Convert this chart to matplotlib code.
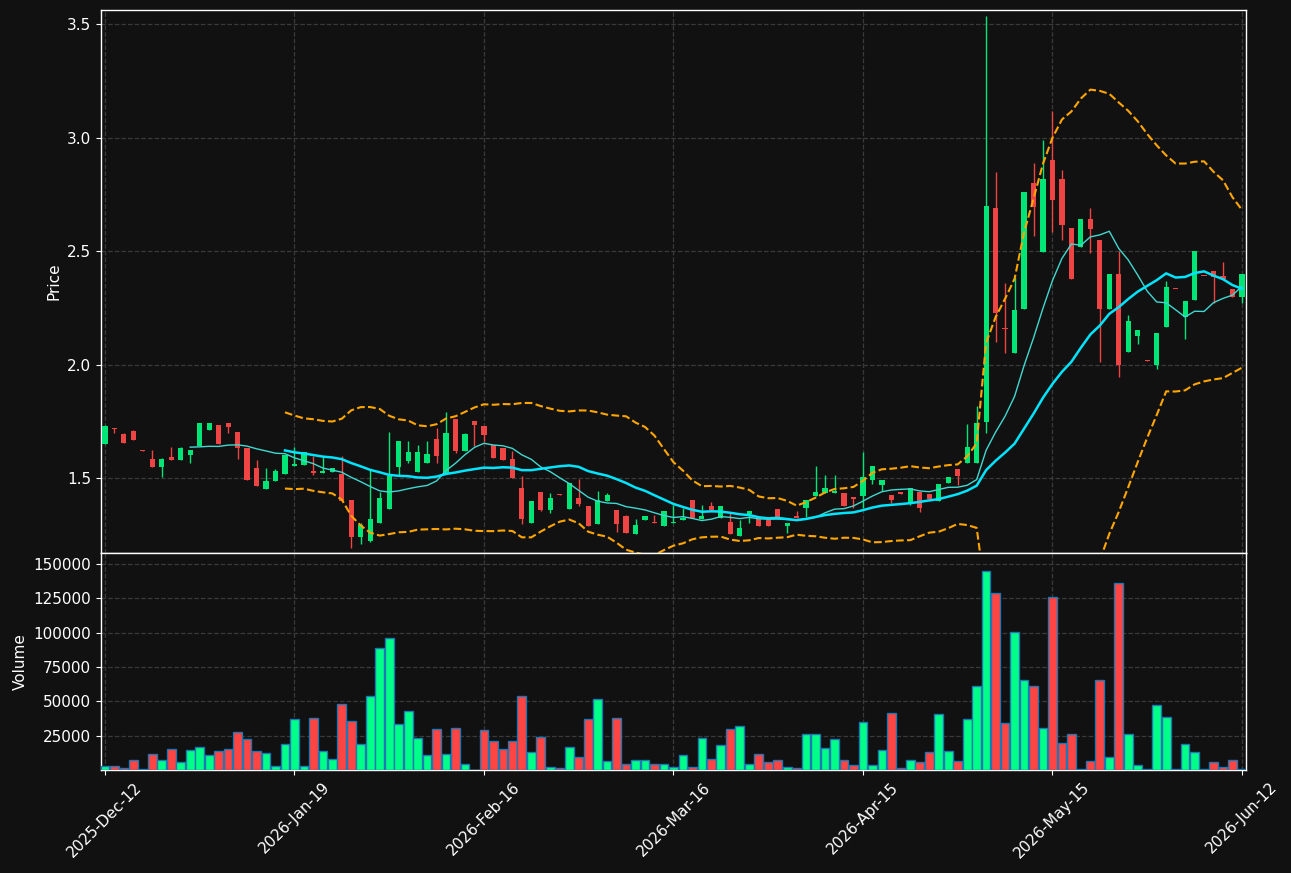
import numpy as np
import pandas as pd
import matplotlib
matplotlib.use("Agg")
import matplotlib.pyplot as plt

tick_labels = ["2025-Dec-12", "2026-Jan-19", "2026-Feb-16", "2026-Mar-16",
               "2026-Apr-15", "2026-May-15", "2026-Jun-12"]

opens = [1.651, 1.720, 1.694, 1.707, 1.623, 1.584, 1.550, 1.592, 1.581, 1.603,
         1.642, 1.713, 1.733, 1.742, 1.703, 1.634, 1.544, 1.453, 1.488, 1.519,
         1.554, 1.557, 1.529, 1.521, 1.528, 1.518, 1.403, 1.241, 1.224, 1.303,
         1.365, 1.550, 1.575, 1.528, 1.567, 1.670, 1.523, 1.760, 1.619, 1.751,
         1.729, 1.645, 1.632, 1.584, 1.456, 1.303, 1.438, 1.360, 1.429, 1.365,
         1.412, 1.377, 1.299, 1.400, 1.359, 1.333, 1.255, 1.316, 1.303, 1.290,
         1.300, 1.316, 1.403, 1.318, 1.377, 1.325, 1.306, 1.246, 1.340, 1.319,
         1.319, 1.363, 1.290, 1.333, 1.369, 1.422, 1.432, 1.432, 1.434, 1.416,
         1.421, 1.491, 1.469, 1.425, 1.437, 1.391, 1.440, 1.430, 1.400, 1.479,
         1.540, 1.567, 1.567, 1.748, 2.689, 2.160, 2.049, 2.246, 2.800, 2.497,
         2.901, 2.817, 2.601, 2.519, 2.641, 2.548, 2.246, 2.399, 2.056, 2.127,
         2.019, 1.999, 2.167, 2.334, 2.208, 2.285, 2.391, 2.411, 2.390, 2.333,
         2.299]
closes = [1.730, 1.717, 1.656, 1.669, 1.621, 1.550, 1.584, 1.581, 1.631, 1.623,
          1.742, 1.742, 1.651, 1.726, 1.634, 1.493, 1.466, 1.487, 1.531, 1.601,
          1.562, 1.613, 1.521, 1.532, 1.544, 1.400, 1.241, 1.293, 1.319, 1.412,
          1.509, 1.664, 1.615, 1.615, 1.606, 1.598, 1.697, 1.619, 1.695, 1.733,
          1.689, 1.589, 1.581, 1.501, 1.321, 1.399, 1.360, 1.412, 1.427, 1.479,
          1.387, 1.290, 1.403, 1.425, 1.299, 1.259, 1.293, 1.333, 1.301, 1.355,
          1.306, 1.324, 1.325, 1.333, 1.358, 1.377, 1.255, 1.280, 1.355, 1.290,
          1.290, 1.330, 1.302, 1.325, 1.403, 1.438, 1.456, 1.441, 1.377, 1.409,
          1.504, 1.553, 1.491, 1.403, 1.431, 1.455, 1.369, 1.407, 1.474, 1.504,
          1.510, 1.637, 1.741, 2.698, 2.228, 2.158, 2.240, 2.760, 2.695, 2.817,
          2.725, 2.615, 2.378, 2.641, 2.597, 2.246, 2.399, 1.998, 2.192, 2.152,
          2.017, 2.139, 2.341, 2.332, 2.280, 2.500, 2.389, 2.387, 2.378, 2.299,
          2.399]
highs = [1.735, 1.722, 1.700, 1.713, 1.623, 1.623, 1.590, 1.635, 1.635, 1.623,
         1.742, 1.742, 1.733, 1.742, 1.703, 1.634, 1.579, 1.543, 1.540, 1.601,
         1.638, 1.613, 1.597, 1.594, 1.544, 1.596, 1.403, 1.300, 1.535, 1.440,
         1.701, 1.664, 1.664, 1.647, 1.664, 1.720, 1.789, 1.760, 1.700, 1.751,
         1.729, 1.645, 1.632, 1.620, 1.510, 1.399, 1.438, 1.433, 1.429, 1.479,
         1.494, 1.377, 1.443, 1.433, 1.359, 1.337, 1.318, 1.333, 1.336, 1.355,
         1.381, 1.367, 1.403, 1.381, 1.394, 1.377, 1.344, 1.315, 1.355, 1.319,
         1.319, 1.363, 1.302, 1.355, 1.403, 1.553, 1.513, 1.513, 1.434, 1.416,
         1.616, 1.553, 1.491, 1.425, 1.437, 1.455, 1.440, 1.430, 1.474, 1.504,
         1.540, 1.737, 1.819, 3.535, 2.847, 2.358, 2.387, 2.760, 2.886, 2.989,
         3.118, 2.858, 2.601, 2.641, 2.688, 2.548, 2.399, 2.500, 2.220, 2.152,
         2.019, 2.139, 2.370, 2.334, 2.280, 2.500, 2.391, 2.411, 2.450, 2.333,
         2.399]
lows = [1.648, 1.700, 1.656, 1.669, 1.621, 1.550, 1.503, 1.581, 1.581, 1.565,
        1.642, 1.713, 1.651, 1.700, 1.582, 1.493, 1.466, 1.453, 1.488, 1.519,
        1.554, 1.557, 1.513, 1.521, 1.528, 1.400, 1.190, 1.210, 1.220, 1.300,
        1.365, 1.510, 1.565, 1.528, 1.567, 1.567, 1.523, 1.610, 1.619, 1.642,
        1.660, 1.589, 1.581, 1.501, 1.296, 1.303, 1.356, 1.347, 1.427, 1.365,
        1.378, 1.290, 1.299, 1.400, 1.263, 1.259, 1.255, 1.316, 1.301, 1.290,
        1.300, 1.316, 1.325, 1.318, 1.358, 1.325, 1.255, 1.246, 1.300, 1.290,
        1.290, 1.330, 1.259, 1.325, 1.330, 1.422, 1.432, 1.432, 1.377, 1.367,
        1.367, 1.472, 1.444, 1.389, 1.431, 1.380, 1.352, 1.407, 1.400, 1.479,
        1.469, 1.567, 1.567, 1.697, 2.098, 2.049, 2.049, 2.246, 2.567, 2.497,
        2.585, 2.548, 2.378, 2.519, 2.490, 2.010, 2.246, 1.946, 2.056, 2.090,
        2.017, 1.980, 2.167, 2.332, 2.111, 2.285, 2.389, 2.270, 2.378, 2.299,
        2.270]
volumes = [2700, 2700, 1700, 7100, 500, 11500, 7100, 15200, 5600, 14500,
           16700, 10800, 13700, 15200, 27700, 22500, 13700, 12200, 2700, 18900,
           37300, 2700, 38000, 13700, 7800, 48300, 35800, 18900, 54200, 88700,
           96100, 33600, 43100, 23300, 10800, 29900, 11500, 30600, 4700, 300,
           29200, 21100, 15200, 21100, 54200, 13000, 24000, 1900, 1200, 16700,
           9300, 37300, 52000, 6400, 38000, 4200, 7100, 7100, 4700, 4700,
           1900, 10800, 1900, 23300, 7800, 18100, 29900, 32100, 4700, 11500,
           5600, 7100, 1900, 1200, 26200, 26200, 15900, 22500, 7100, 3400,
           35000, 3400, 14500, 41700, 1200, 7100, 5600, 13000, 41000, 13700,
           6400, 37300, 60800, 144600, 129200, 34300, 100500, 65200, 61500, 30600,
           126200, 19600, 26200, 500, 6400, 65200, 9300, 135800, 26200, 3400,
           500, 47600, 38700, 500, 18900, 13000, 500, 5600, 1900, 7100,
           500]

BG = "#111111"
UP = "#00e676"
DN = "#ef4444"
VUP = "#00ff88"
VDN = "#ff4444"

o = np.array(opens); c = np.array(closes); h = np.array(highs); l = np.array(lows)
v = np.array(volumes)
x = np.arange(len(o))
up = c >= o

s = pd.Series(c)
ma10 = s.rolling(10).mean()
ma20 = s.rolling(20).mean()
sd20 = s.rolling(20).std(ddof=0)
bb_up = ma20 + 2 * sd20
bb_lo = ma20 - 2 * sd20

fig = plt.figure(figsize=(12.91, 8.73), dpi=100, facecolor=BG)
ax = fig.add_axes([0.0782, 0.3666, 0.8869, 0.6219])
axv = fig.add_axes([0.0782, 0.1180, 0.8869, 0.2486], sharex=ax)

for a in (ax, axv):
    a.set_facecolor(BG)
    for sp in a.spines.values():
        sp.set_color("white")
        sp.set_linewidth(1.0)
    a.grid(True, linestyle="--", color="#3a3a3a", linewidth=0.9)
    a.set_axisbelow(True)
    a.tick_params(colors="white", labelsize=11)

cols = np.where(up, UP, DN)
ax.vlines(x, l, h, colors=cols, linewidth=1.0, zorder=2)
body_bot = np.minimum(o, c)
body_h = np.maximum(np.abs(c - o), 0.004)
ax.bar(x, body_h, bottom=body_bot, width=0.55, color=cols, zorder=3)

ax.plot(x, ma10, color="#40d8d0", linewidth=1.0, zorder=4)
ax.plot(x, ma20, color="#00e5ff", linewidth=1.8, zorder=4)
ax.plot(x, bb_up, color="#ffa500", linestyle="--", linewidth=1.5, zorder=4)
ax.plot(x, bb_lo, color="#ffa500", linestyle="--", linewidth=1.5, zorder=4)

ax.set_ylim(1.17, 3.562)
ax.set_yticks([1.5, 2.0, 2.5, 3.0, 3.5])
ax.set_ylabel("Price", color="white", fontsize=11)
ax.tick_params(axis="x", labelbottom=False, length=0)

vcols = np.where(up, VUP, VDN)
axv.bar(x, v, width=0.92, color=vcols, edgecolor="#1f77b4", linewidth=1.0, zorder=3)
axv.set_ylim(0, 158000)
axv.set_yticks([25000, 50000, 75000, 100000, 125000, 150000])
axv.set_ylabel("Volume", color="white", fontsize=11)

axv.set_xlim(-0.42, 120.42)
axv.set_xticks(np.arange(0, 121, 20))
axv.set_xticklabels(tick_labels, rotation=45, ha="center")

fig.savefig("out.png", dpi=100, facecolor=BG)
